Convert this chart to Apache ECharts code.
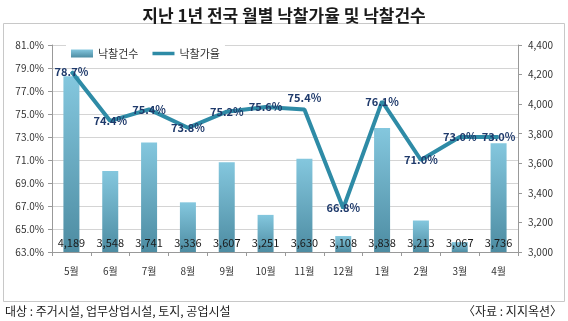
<!DOCTYPE html>
<html>
<head>
<meta charset="utf-8">
<script src="https://cdn.jsdelivr.net/npm/echarts@6/dist/echarts.min.js"></script>
<style>
  html, body { margin: 0; padding: 0; background: #fff; }
  #chart { width: 568px; height: 321px; }
</style>
</head>
<body>
<div id="chart"></div>
<script>
// 월별 낙찰건수와 낙찰가율
const months = ['5월', '6월', '7월', '8월', '9월', '10월', '11월', '12월', '1월', '2월', '3월', '4월'];
const bidCounts = [4189, 3548, 3741, 3336, 3607, 3251, 3630, 3108, 3838, 3213, 3067, 3736];
const bidRates = [78.7, 74.4, 75.4, 73.8, 75.2, 75.6, 75.4, 66.8, 76.1, 71.0, 73.0, 73.0];

const FONT = '"Noto Sans CJK KR", "Noto Sans", sans-serif';

// 11월 라벨은 10월 라벨과 겹치지 않도록 선 위쪽에 둔다
const rateData = bidRates.map((v, i) =>
  months[i] === '11월'
    ? { value: v, label: { position: 'top', distance: 6 } }
    : v
);

const chart = echarts.init(document.getElementById('chart'));
chart.setOption({
  animation: false,
  textStyle: { fontFamily: FONT },
  title: {
    text: '지난 1년 전국 월별 낙찰가율 및 낙찰건수',
    left: 'center', top: 2,
    textStyle: { fontSize: 17, fontWeight: 'bold', color: '#1a1a1a', fontFamily: FONT }
  },
  graphic: [
    {
      type: 'rect', left: 3, top: 23, z: -1,
      shape: { width: 561, height: 278 },
      style: { fill: '#fff', stroke: '#c8c8c8', lineWidth: 1 }
    },
    {
      type: 'text', left: 5, top: 305,
      style: { text: '대상 : 주거시설, 업무상업시설, 토지, 공업시설', fontSize: 12, fill: '#222', fontFamily: FONT }
    },
    {
      type: 'text', right: 6, top: 305,
      style: { text: '〈자료 : 지지옥션〉', fontSize: 12, fill: '#222', fontFamily: FONT }
    }
  ],
  legend: {
    left: 66, top: 45,
    itemGap: 14, itemWidth: 22, itemHeight: 8,
    backgroundColor: '#fff',
    padding: [3, 5],
    textStyle: { fontSize: 11, color: '#333', fontFamily: FONT },
    data: [
      { name: '낙찰건수', icon: 'rect' },
      { name: '낙찰가율', icon: 'path://M0,0 L22,0 L22,3.5 L0,3.5 Z' }
    ]
  },
  grid: { left: 52, right: 50, top: 45, bottom: 69 },
  xAxis: {
    type: 'category',
    data: months,
    axisLine: { lineStyle: { color: '#999' } },
    axisTick: { show: true, lineStyle: { color: '#999' }, length: 4 },
    axisLabel: { color: '#333', fontSize: 10, margin: 14 }
  },
  yAxis: [
    {
      type: 'value', min: 63, max: 81, interval: 2,
      axisLine: { show: true, lineStyle: { color: '#999' } },
      axisTick: { show: true, lineStyle: { color: '#999' }, length: 4 },
      axisLabel: { color: '#333', fontSize: 10, margin: 8, formatter: v => v.toFixed(1) + '%' },
      splitLine: { lineStyle: { color: '#d4d4d4' } }
    },
    {
      type: 'value', min: 3000, max: 4400, interval: 200,
      axisLine: { show: true, lineStyle: { color: '#999' } },
      axisTick: { show: true, lineStyle: { color: '#999' }, length: 4 },
      axisLabel: { color: '#333', fontSize: 10, margin: 10, formatter: v => v.toLocaleString('en-US') },
      splitLine: { show: false }
    }
  ],
  series: [
    {
      name: '낙찰건수',
      type: 'bar',
      yAxisIndex: 1,
      data: bidCounts,
      barWidth: 16,
      itemStyle: {
        color: new echarts.graphic.LinearGradient(0, 0, 0, 1, [
          { offset: 0, color: '#84c7de' },
          { offset: 1, color: '#4d8ca2' }
        ])
      },
      label: {
        show: true,
        position: 'insideBottom',
        distance: 4,
        fontSize: 11,
        color: '#1a1a1a',
        fontFamily: FONT,
        formatter: p => p.value.toLocaleString('en-US')
      }
    },
    {
      name: '낙찰가율',
      type: 'line',
      yAxisIndex: 0,
      data: rateData,
      symbol: 'circle',
      symbolSize: 1,
      showSymbol: true,
      lineStyle: { color: '#2e8ba6', width: 4 },
      itemStyle: { color: '#2e8ba6' },
      label: {
        show: true,
        position: 'inside',
        fontSize: 11,
        fontWeight: 'bold',
        color: '#1f3a6b',
        fontFamily: FONT,
        formatter: p => p.value.toFixed(1) + '%'
      },
      z: 3
    }
  ]
});
</script>
</body>
</html>
